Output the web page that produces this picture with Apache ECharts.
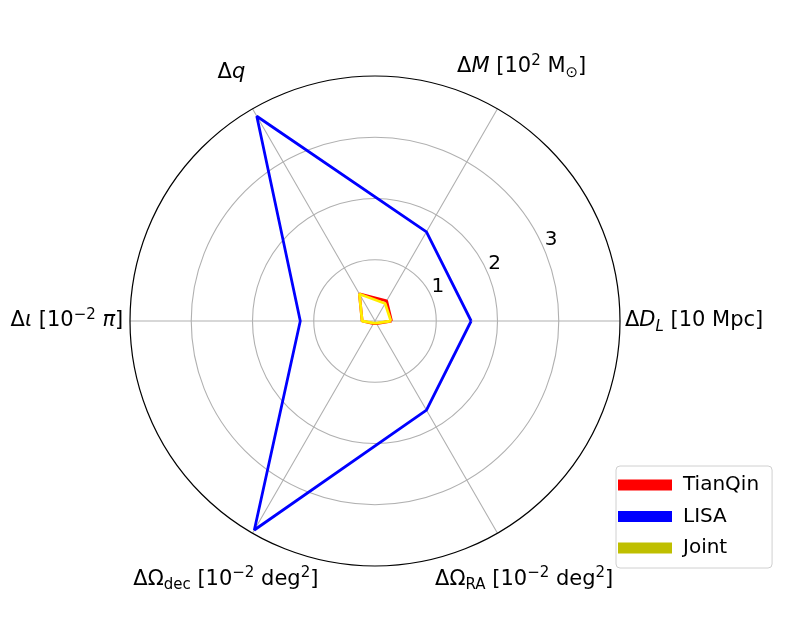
<!DOCTYPE html>
<html>
<head>
<meta charset="utf-8">
<script src="https://cdn.jsdelivr.net/npm/echarts@6/dist/echarts.min.js"></script>
<style>
  html, body { margin: 0; padding: 0; background: #fff; }
  #chart { width: 790px; height: 637px; }
</style>
</head>
<body>
<div id="chart"></div>
<script>
// axes of the radar, counter-clockwise from the right
const axisAngles = [0, 60, 120, 180, 240, 300];
const axisNames = [
  'Δ{it|D}{subit|L} [10 Mpc]',
  'Δ{it|M} [10{sup|2} M{sub|⊙}]',
  'Δ{it|q}',
  'Δ{it|ι} [10{sup|−2} {it|π}]',
  'ΔΩ{sub|dec} [10{sup|−2} deg{sup|2}]',
  'ΔΩ{sub|RA} [10{sup|−2} deg{sup|2}]'
];
const radiusTicks = [1, 2, 3];

// values, same order as axisAngles
const tianqin = [0.27, 0.38, 0.51, 0.21, 0.05, 0.05];
const lisa = [1.57, 1.68, 3.86, 1.22, 3.94, 1.68];
const joint = [0.26, 0.33, 0.51, 0.21, 0.04, 0.04];

const FONT = 'DejaVu Sans';
const cx = 375, cy = 321, R = 245;

// where each axis name sits (radius in data units, alignment)
const nameLayout = [
  { r: 4.08, align: 'left', va: 'middle' },
  { r: 4.79, align: 'center', va: 'middle' },
  { r: 4.69, align: 'center', va: 'middle' },
  { r: 4.11, align: 'right', va: 'middle' },
  { r: 4.87, align: 'center', va: 'middle' },
  { r: 4.87, align: 'center', va: 'middle' }
];

function closed(vals) {
  const pts = vals.map((v, i) => [v, axisAngles[i]]);
  pts.push(pts[0]);
  return pts;
}

const richStyles = {
  it: { fontStyle: 'italic', fontSize: 21, lineHeight: 27, color: '#000', opacity: 1 },
  sub: { fontSize: 15, lineHeight: 15, verticalAlign: 'bottom', color: '#000', opacity: 1 },
  subit: { fontSize: 15, lineHeight: 15, fontStyle: 'italic', verticalAlign: 'bottom', color: '#000', opacity: 1 },
  sup: { fontSize: 15, lineHeight: 15, verticalAlign: 'top', color: '#000', opacity: 1 }
};

const chart = echarts.init(document.getElementById('chart'));
chart.setOption({
  animation: false,
  backgroundColor: '#fff',
  textStyle: { fontFamily: FONT, color: '#000' },
  polar: [
    { center: [cx, cy], radius: R },
    { center: [cx, cy], radius: R }
  ],
  angleAxis: [
    {
      polarIndex: 0,
      type: 'value',
      min: 0,
      max: 360,
      interval: 60,
      startAngle: 0,
      clockwise: false,
      axisLine: { lineStyle: { color: '#000', width: 1.2 } },
      axisTick: { show: false },
      axisLabel: { show: false },
      splitLine: { lineStyle: { color: '#b0b0b0', width: 1.1 } }
    },
    {
      polarIndex: 1,
      type: 'value',
      min: 0,
      max: 360,
      startAngle: 22.5,
      clockwise: false,
      show: false
    }
  ],
  radiusAxis: [
    {
      polarIndex: 0,
      type: 'value',
      min: 0,
      max: 4,
      interval: 1,
      axisLine: { show: false },
      axisTick: { show: false },
      axisLabel: { show: false },
      splitLine: {
        lineStyle: {
          color: ['#b0b0b0', '#b0b0b0', '#b0b0b0', '#b0b0b0', 'rgba(0,0,0,0)'],
          width: 1.1
        }
      }
    },
    {
      // tick labels along 22.5 deg, pushed ~10px outward like matplotlib
      polarIndex: 1,
      type: 'value',
      min: -0.163,
      max: 3.837,
      splitNumber: 4,
      axisLine: { show: false },
      axisTick: { show: false },
      splitLine: { show: false },
      axisLabel: {
        showMinLabel: false,
        showMaxLabel: false,
        margin: 7.5,
        align: 'center',
        verticalAlign: 'middle',
        fontSize: 20,
        color: '#000',
        fontFamily: FONT,
        formatter: function (v) {
          return radiusTicks.indexOf(Math.round(v * 1000) / 1000) >= 0 ? String(Math.round(v)) : '';
        }
      }
    }
  ],
  legend: {
    left: 616,
    top: 466,
    orient: 'vertical',
    icon: 'rect',
    itemWidth: 54,
    itemHeight: 11,
    itemGap: 11.5,
    padding: [9, 13, 10, 2],
    borderColor: '#d0d0d0',
    borderWidth: 1,
    borderRadius: 4,
    backgroundColor: '#fff',
    itemStyle: { borderWidth: 0 },
    textStyle: {
      fontFamily: FONT,
      fontSize: 20,
      lineHeight: 20,
      color: '#000',
      padding: [0, 0, 0, 6]
    },
    data: [
      { name: 'TianQin', itemStyle: { color: '#ff0000' } },
      { name: 'LISA', itemStyle: { color: '#0000ff' } },
      { name: 'Joint', itemStyle: { color: '#bfbf00' } }
    ]
  },
  series: [
    {
      name: 'TianQin',
      type: 'line',
      coordinateSystem: 'polar',
      polarIndex: 0,
      symbol: 'none',
      color: '#ff0000',
      lineStyle: { color: '#ff0000', width: 2.8 },
      data: closed(tianqin),
      z: 3
    },
    {
      name: 'LISA',
      type: 'line',
      coordinateSystem: 'polar',
      polarIndex: 0,
      symbol: 'none',
      color: '#0000ff',
      lineStyle: { color: '#0000ff', width: 2.8 },
      data: closed(lisa),
      z: 4
    },
    {
      name: 'Joint',
      type: 'line',
      coordinateSystem: 'polar',
      polarIndex: 0,
      symbol: 'none',
      color: '#ffff00',
      lineStyle: { color: '#ffee00', width: 2.8 },
      data: closed(joint),
      z: 5
    },
    {
      // axis names
      name: 'axisNames',
      type: 'scatter',
      coordinateSystem: 'polar',
      polarIndex: 0,
      clip: false,
      silent: true,
      symbolSize: 0,
      itemStyle: { color: '#000', opacity: 1 },
      label: {
        show: true,
        position: [0, 0],
        color: '#000',
        opacity: 1,
        textBorderWidth: 0,
        fontFamily: FONT,
        fontSize: 21,
        lineHeight: 27,
        rich: richStyles
      },
      data: axisNames.map((n, i) => ({
        value: [nameLayout[i].r, axisAngles[i]],
        label: {
          formatter: n,
          align: nameLayout[i].align,
          verticalAlign: nameLayout[i].va,
          color: '#000'
        }
      }))
    }
  ]
});
</script>
</body>
</html>
